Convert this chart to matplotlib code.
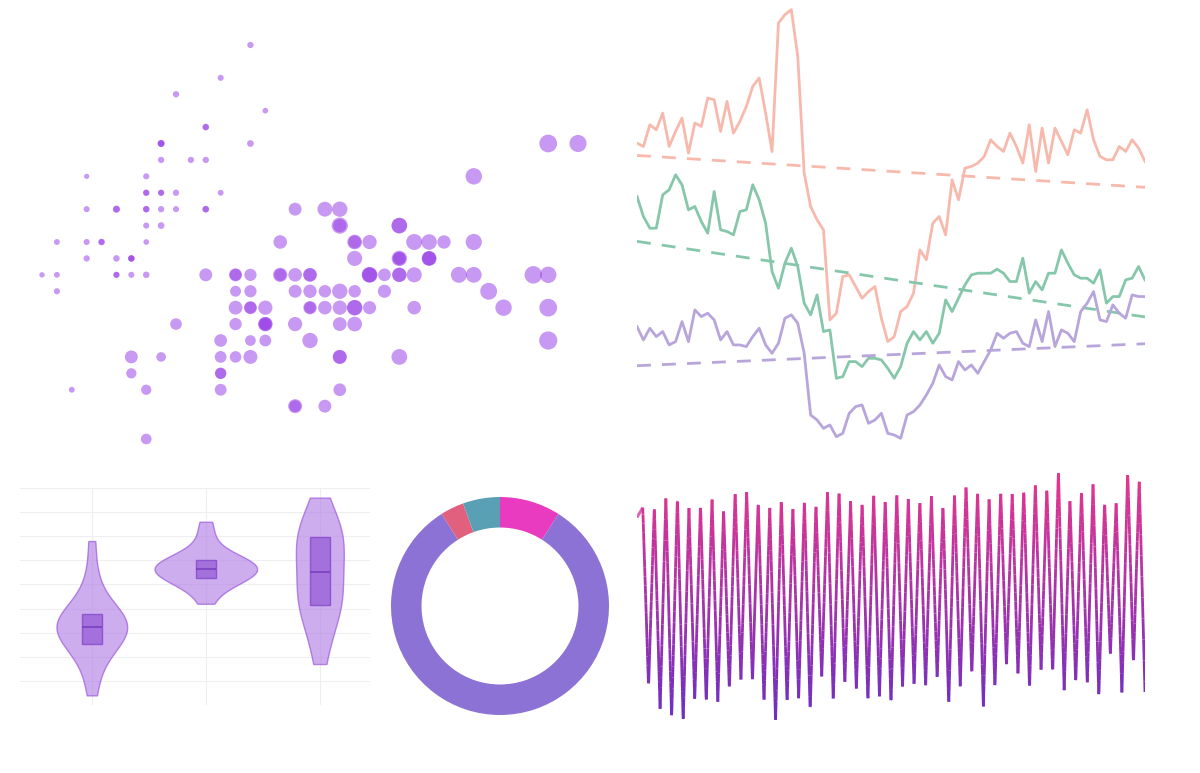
import numpy as np
import matplotlib
matplotlib.use("Agg")
import matplotlib.pyplot as plt
from matplotlib.collections import LineCollection
from matplotlib.colors import LinearSegmentedColormap

# ---- iris data (sepal length, sepal width, petal length)
sepal_length = [5.1,4.9,4.7,4.6,5.0,5.4,4.6,5.0,4.4,4.9,5.4,4.8,4.8,4.3,5.8,5.7,5.4,5.1,5.7,5.1,5.4,5.1,4.6,5.1,4.8,5.0,5.0,5.2,5.2,4.7,4.8,5.4,5.2,5.5,4.9,5.0,5.5,4.9,4.4,5.1,5.0,4.5,4.4,5.0,5.1,4.8,5.1,4.6,5.3,5.0,
 7.0,6.4,6.9,5.5,6.5,5.7,6.3,4.9,6.6,5.2,5.0,5.9,6.0,6.1,5.6,6.7,5.6,5.8,6.2,5.6,5.9,6.1,6.3,6.1,6.4,6.6,6.8,6.7,6.0,5.7,5.5,5.5,5.8,6.0,5.4,6.0,6.7,6.3,5.6,5.5,5.5,6.1,5.8,5.0,5.6,5.7,5.7,6.2,5.1,5.7,
 6.3,5.8,7.1,6.3,6.5,7.6,4.9,7.3,6.7,7.2,6.5,6.4,6.8,5.7,5.8,6.4,6.5,7.7,7.7,6.0,6.9,5.6,7.7,6.3,6.7,7.2,6.2,6.1,6.4,7.2,7.4,7.9,6.4,6.3,6.1,7.7,6.3,6.4,6.0,6.9,6.7,6.9,5.8,6.8,6.7,6.7,6.3,6.5,6.2,5.9]
sepal_width = [3.5,3.0,3.2,3.1,3.6,3.9,3.4,3.4,2.9,3.1,3.7,3.4,3.0,3.0,4.0,4.4,3.9,3.5,3.8,3.8,3.4,3.7,3.6,3.3,3.4,3.0,3.4,3.5,3.4,3.2,3.1,3.4,4.1,4.2,3.1,3.2,3.5,3.1,3.0,3.4,3.5,2.3,3.2,3.5,3.8,3.0,3.8,3.2,3.7,3.3,
 3.2,3.2,3.1,2.3,2.8,2.8,3.3,2.4,2.9,2.7,2.0,3.0,2.2,2.9,2.9,3.1,3.0,2.7,2.2,2.5,3.2,2.8,2.5,2.8,2.9,3.0,2.8,3.0,2.9,2.6,2.4,2.4,2.7,2.7,3.0,3.4,3.1,2.3,3.0,2.5,2.6,3.0,2.6,2.3,2.7,3.0,2.9,2.9,2.5,2.8,
 3.3,2.7,3.0,2.9,3.0,3.0,2.5,2.9,2.5,3.6,3.2,2.7,3.0,2.5,2.8,3.2,3.0,3.8,2.6,2.2,3.2,2.8,2.8,2.7,3.3,3.2,2.8,3.0,2.8,3.0,2.8,3.8,2.8,2.8,2.6,3.0,3.4,3.1,3.0,3.1,3.1,3.1,2.7,3.2,3.3,3.0,2.5,3.0,3.4,3.0]
petal_length = [1.4,1.4,1.3,1.5,1.4,1.7,1.4,1.5,1.4,1.5,1.5,1.6,1.4,1.1,1.2,1.5,1.3,1.4,1.7,1.5,1.7,1.5,1.0,1.7,1.9,1.6,1.6,1.5,1.4,1.6,1.6,1.5,1.5,1.4,1.5,1.2,1.3,1.5,1.3,1.5,1.3,1.3,1.3,1.6,1.9,1.4,1.6,1.4,1.5,1.4,
 4.7,4.5,4.9,4.0,4.6,4.5,4.7,3.3,4.6,3.9,3.5,4.2,4.0,4.7,3.6,4.4,4.5,4.1,4.5,3.9,4.8,4.0,4.9,4.7,4.3,4.4,4.8,5.0,4.5,3.5,3.8,3.7,3.9,5.1,4.5,4.5,4.7,4.4,4.1,4.0,4.4,4.6,4.0,3.3,4.2,4.2,4.2,4.3,3.0,4.1,
 6.0,5.1,5.9,5.6,5.8,6.6,4.5,6.3,5.8,6.1,5.1,5.3,5.5,5.0,5.1,5.3,5.5,6.7,6.9,5.0,5.7,4.9,6.7,4.9,5.7,6.0,4.8,4.9,5.6,5.8,6.1,6.4,5.6,5.1,5.6,6.1,5.6,5.5,4.8,5.4,5.6,5.1,5.1,5.9,5.7,5.2,5.0,5.2,5.4,5.1]

# ---- top-right series
pink = [430,440,375,390,340,440,395,355,460,370,380,295,300,395,305,400,365,320,260,235,340,455,70,45,30,170,520,620,660,690,960,940,830,825,860,895,875,860,955,1025,1010,935,920,880,750,780,670,650,705,540,600,505,500,490,470,420,440,455,400,440,490,375,515,385,490,385,425,465,390,400,330,420,470,480,480,440,455,420,445,485]
green = [590,650,685,685,585,570,525,555,630,620,665,700,575,690,695,705,635,630,555,600,670,815,865,790,745,800,910,945,885,995,990,1135,1130,1085,1085,1100,1075,1075,1080,1105,1135,1100,1030,995,1020,995,1030,1000,900,935,895,855,825,820,820,820,808,820,845,845,775,880,845,870,820,820,750,790,825,835,835,850,810,910,890,890,840,835,800,840]
purple = [980,1020,985,1010,995,1035,1025,965,1025,930,950,940,960,1020,995,1035,1035,1040,1010,985,1035,1060,1030,955,945,970,1060,1245,1260,1285,1275,1310,1300,1240,1220,1215,1270,1260,1240,1300,1305,1315,1245,1235,1215,1185,1150,1095,1130,1140,1085,1110,1095,1120,1085,1050,1000,1015,1000,995,1030,1040,960,1025,935,1040,990,1000,1025,935,910,875,960,965,915,940,955,885,890,890]

# ---- bottom-right oscillation
wave = [170,140,685,135,755,110,780,105,790,140,725,130,735,110,730,145,695,90,665,90,670,118,730,140,790,110,735,140,720,118,760,130,655,90,730,85,675,120,695,120,730,100,715,115,740,95,685,110,685,115,685,105,660,130,740,100,685,70,650,90,745,110,690,88,620,98,650,82,690,70,635,80,645,28,695,115,675,85,675,68,715,120,590,125,705,30,615,55,700]

# ---- donut
donut_values = [9, 82, 3.5, 5.5]
donut_colors = ["#e83bbf", "#8c72d4", "#e0607e", "#5aa0b4"]

# ---- violins
v1 = [0.4,1.2,1.8,2.2,2.4,2.5,2.7,2.9,3.0,3.1,3.2,3.3,3.4,3.5,3.6,3.7,3.8,4.0,4.3,4.8,5.5,6.8]
v2 = [4.2,4.7,5.0,5.1,5.2,5.3,5.4,5.5,5.6,5.6,5.7,5.8,5.8,5.9,6.0,6.1,6.2,6.5,7.0,7.6]
v3 = [1.7,2.6,3.3,3.8,4.1,4.2,4.4,4.8,5.2,5.5,5.8,6.2,6.6,6.9,7.0,7.2,7.4,7.8,8.6]

fig = plt.figure(figsize=(12, 7.73), dpi=100)
W, H = 1200, 773
def ax_px(x0, y0, x1, y1):
    return fig.add_axes([x0/W, 1-y1/H, (x1-x0)/W, (y1-y0)/H])

# scatter
ax = ax_px(42, 45, 578, 439)
pl = np.array(petal_length)
diam = 3 + 2.2*pl
ax.scatter(sepal_length, sepal_width, s=(diam*0.72)**2, color="#9b45e8", alpha=0.55,
           linewidths=0, clip_on=False)
ax.set_xlim(4.3, 7.9); ax.set_ylim(2.0, 4.4)
ax.axis("off")

# lines
ax = ax_px(637, 8, 1145, 440)
for data, c in [(pink, "#f8b9ad"), (green, "#86c7ab"), (purple, "#b8a5db")]:
    y = -np.array(data, float)
    x = np.arange(len(y))
    ax.plot(x, y, color=c, lw=2)
    p = np.polyfit(x, y, 1)
    ax.plot(x, np.polyval(p, x), color=c, lw=2, ls=(0, (5, 4)))
ax.set_xlim(0, len(pink)-1)
ax.set_ylim(-1320, -25)
ax.axis("off")

# violins
ax = ax_px(20, 488, 370, 705)
for data, pos, w in [(v1, 0, 0.62), (v2, 1, 0.9), (v3, 2, 0.42)]:
    parts = ax.violinplot([data], positions=[pos], widths=w, showextrema=False)
    for b in parts["bodies"]:
        b.set_facecolor("#b88ae8"); b.set_edgecolor("#9b59d9"); b.set_alpha(0.7); b.set_linewidth(1)
ax.boxplot([v1, v2, v3], positions=[0, 1, 2], widths=0.18, patch_artist=True, showfliers=False,
           whis=0, showcaps=False,
           boxprops=dict(facecolor="#a06ad9", edgecolor="#8a4fcf", alpha=0.9),
           medianprops=dict(color="#7a3fc0", lw=1.2), whiskerprops=dict(lw=0))
for yv in np.arange(0, 9.1, 1):
    ax.axhline(yv, color="#eeeeee", lw=0.8, zorder=0)
for xv in [0, 1, 2]:
    ax.axvline(xv, color="#eeeeee", lw=0.8, zorder=0)
ax.set_xlim(-0.63, 2.44); ax.set_ylim(0, 9.0)
for s in ax.spines.values(): s.set_visible(False)
ax.set_xticks([]); ax.set_yticks([])

# donut
ax = ax_px(390, 497, 610, 715)
ax.pie(donut_values, colors=donut_colors, startangle=90, counterclock=False, radius=1,
       wedgeprops=dict(width=0.28, edgecolor="white", linewidth=0))
ax.set_xlim(-1, 1); ax.set_ylim(-1, 1)
ax.set_aspect("equal")

# gradient wave
ax = ax_px(637, 468, 1145, 725)
y = -np.array(wave, float)
x = np.arange(len(y))
xf = np.linspace(0, len(y)-1, len(y)*20)
yf = np.interp(xf, x, y)
pts = np.column_stack([xf, yf]).reshape(-1, 1, 2)
segs = np.concatenate([pts[:-1], pts[1:]], axis=1)
cmap = LinearSegmentedColormap.from_list("g", ["#6a2fc4", "#e8358c"])
lc = LineCollection(segs, cmap=cmap, norm=plt.Normalize(-790, -28), linewidths=2)
lc.set_array((yf[:-1]+yf[1:])/2)
ax.add_collection(lc)
ax.set_xlim(0, len(y)-1); ax.set_ylim(-800, -20)
ax.axis("off")

fig.savefig("out.png", dpi=100)
